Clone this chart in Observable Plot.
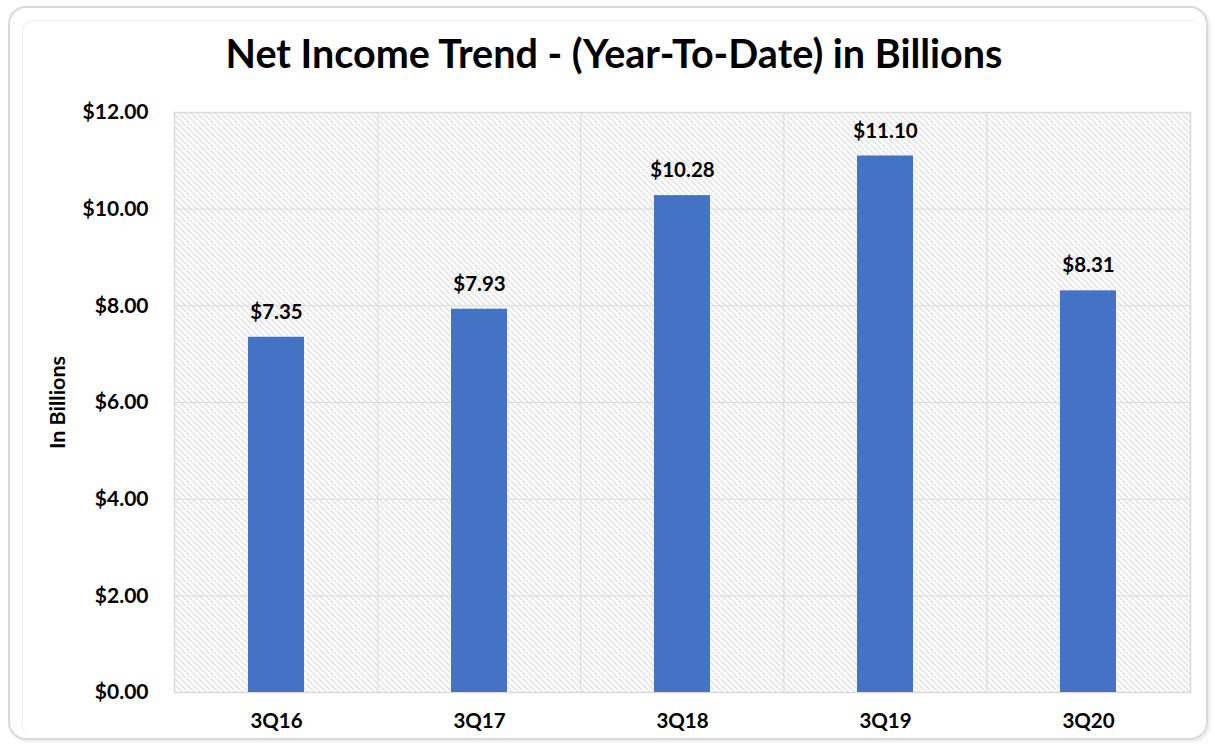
<!DOCTYPE html>
<html>
<head>
<meta charset="utf-8">
<script src="https://cdn.jsdelivr.net/npm/d3@7"></script>
<script src="https://cdn.jsdelivr.net/npm/@observablehq/plot@0.6"></script>
<style>
  html, body { margin: 0; padding: 0; background: #fff; }
  #wrap { position: relative; width: 1215px; height: 748px; overflow: hidden; font-family: Lato, "Open Sans", sans-serif; }
  #outer { position: absolute; left: 8px; top: 6px; width: 1196px; height: 730px; border: 2px solid #d9d9d9; border-radius: 18px; box-sizing: content-box; box-shadow: 2px 2px 3px rgba(0,0,0,0.08); }
  #inner { position: absolute; left: 22px; top: 20px; width: 1180px; height: 716px; border-left: 1px solid #eeeeee; border-top: 1px solid #eeeeee; border-radius: 12px; }
  #title { position: absolute; left: 0; width: 1228px; top: 29px; text-align: center; font-size: 39.5px; line-height: 48px; font-weight: 700; color: #000; font-family: Lato, sans-serif; }
  #chart { position: absolute; left: 0; top: 0; }
</style>
</head>
<body>
<div id="wrap">
  <div id="outer"></div>
  <div id="inner"></div>
  <div id="chart"></div>
  <div id="title">Net Income Trend - (Year-To-Date) in Billions</div>
</div>
<script>
const categories = ["3Q16", "3Q17", "3Q18", "3Q19", "3Q20"];
const netIncome = [7.35, 7.93, 10.28, 11.10, 8.31];
const yTicks = [0, 2, 4, 6, 8, 10, 12];

const data = categories.map((c, i) => ({ q: c, v: netIncome[i] }));
const fmt = v => "$" + v.toFixed(2);
const step = (1215 - 174 - 25) / categories.length;

const chart = Plot.plot({
  width: 1215,
  height: 748,
  marginTop: 112,
  marginBottom: 56,
  marginLeft: 174,
  marginRight: 25,
  style: { fontFamily: "Lato, sans-serif", background: "transparent", overflow: "visible" },
  x: { domain: categories, label: null, paddingInner: 0.725, paddingOuter: 0.3625, tickSize: 0 },
  y: { domain: [0, 12], ticks: yTicks, label: null, tickFormat: fmt, tickSize: 0 },
  marks: [
    Plot.frame({ fill: "url(#hatch)", stroke: "none" }),
    Plot.gridY(yTicks, { stroke: "#d9d9d9", strokeOpacity: 1, strokeWidth: 1 }),
    Plot.gridX(categories.slice(1), { stroke: "#d9d9d9", strokeOpacity: 1, strokeWidth: 1, dx: -step / 2 }),
    Plot.frame({ stroke: "#d9d9d9", strokeWidth: 1.5 }),
    Plot.barY(data, { x: "q", y: "v", fill: "#4472C4" }),
    Plot.text(data, { x: "q", y: "v", text: d => fmt(d.v), dy: -25, fontSize: 20.5, fontWeight: "bold", fill: "#000" }),
    Plot.axisY(yTicks, { tickFormat: fmt, tickSize: 0, tickPadding: 26, fontSize: 21, fontWeight: "bold", fill: "#000", label: null }),
    Plot.axisX(categories, { tickSize: 0, tickPadding: 21, fontSize: 20.5, fontWeight: "bold", fill: "#000", label: null }),
    Plot.text(["In Billions"], { frameAnchor: "left", textAnchor: "middle", dx: -116, rotate: -90, fontSize: 21.5, fontWeight: "bold", fill: "#000" })
  ]
});

// add hatch pattern
const ns = "http://www.w3.org/2000/svg";
const defs = document.createElementNS(ns, "defs");
defs.innerHTML = `
  <pattern id="hatch" patternUnits="userSpaceOnUse" width="6" height="6">
    <rect width="6" height="6" fill="#ffffff"/>
    <path d="M-1,-1 L7,7 M-4,2 L2,8 M4,-2 L8,2" stroke="#bdbdbd" stroke-width="1.1" stroke-dasharray="1.6,0.8"/>
  </pattern>`;
chart.insertBefore(defs, chart.firstChild);
document.getElementById("chart").appendChild(chart);
</script>
</body>
</html>
